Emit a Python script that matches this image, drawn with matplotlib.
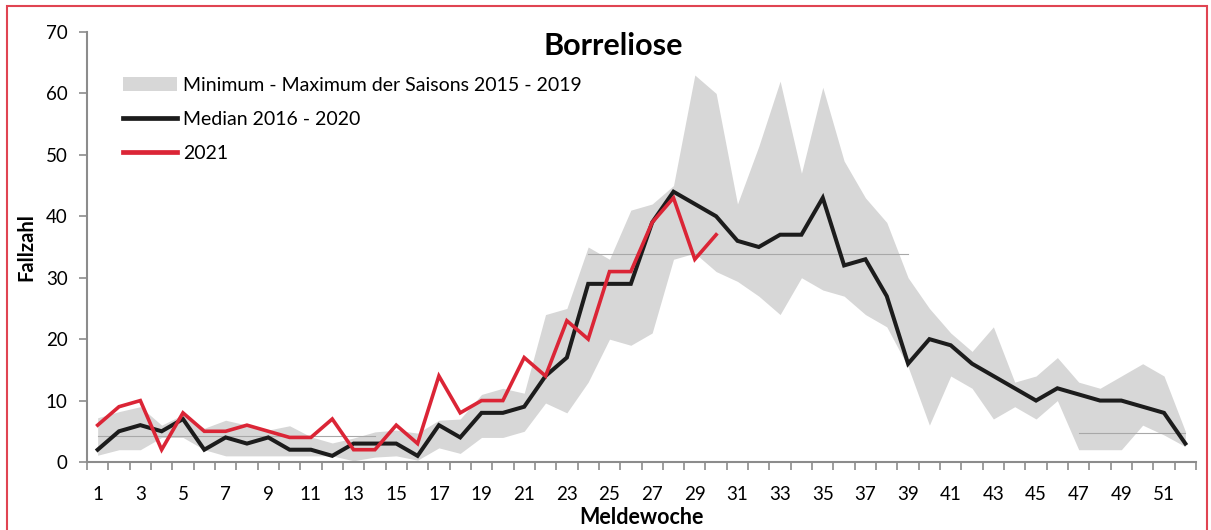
import numpy as np
import matplotlib
matplotlib.use("Agg")
import matplotlib.pyplot as plt
from matplotlib.patches import Rectangle, Patch
from matplotlib.lines import Line2D

weeks = list(range(1, 53))
band_max = [7.2, 8.2, 9, 6, 7.7, 5.5, 6.8, 6, 5.2, 5.9, 4.1, 3.1, 3.9, 4.9,
            5.2, 4.7, 6.8, 7, 11, 12, 11.2, 24, 25, 35, 33, 41, 42,
            45, 63, 60, 42, 51.4, 62, 47, 61, 49, 43, 39,
            30, 25, 21, 18, 22, 13, 14, 17, 13, 12, 14, 16, 14, 5]
band_min = [1.1, 2, 2, 4, 4, 2, 1, 1, 1, 1, 1, 1, 0.2, 0.8,
            1, 0.3, 2.3, 1.4, 4, 4, 5, 9.6, 8, 13, 20, 19, 21,
            33, 34, 31, 29.4, 27, 24, 30, 28, 27, 24, 22,
            15.5, 6, 14, 12, 7, 9, 7, 10, 2, 2, 2, 6, 4.4, 2.5]
median = [2, 5, 6, 5, 7, 2, 4, 3, 4, 2, 2, 1, 3, 3, 3, 1, 6, 4, 8, 8, 9, 14,
          17, 29, 29, 29, 39, 44, 42, 40, 36, 35, 37, 37, 43, 32, 33, 27,
          16, 20, 19, 16, 14, 12, 10, 12, 11, 10, 10, 9, 8, 3]
weeks_2021 = list(range(1, 31))
cases_2021 = [6, 9, 10, 2, 8, 5, 5, 6, 5, 4, 4, 7, 2, 2, 6, 3, 14, 8, 10, 10,
              17, 14, 23, 20, 31, 31, 39, 43, 33, 37]
# faint horizontal lines visible inside the band of the original chart
ref_levels = [4.3, 33.8, 4.7]
ref_from = [1, 24, 47]
ref_to = [14, 39, 52]
xtick_labels = [str(w) for w in range(1, 53, 2)]

FONT = "Lato"
plt.rcParams['font.family'] = [FONT, 'DejaVu Sans']

fig = plt.figure(figsize=(12.11, 5.30), dpi=100)
ax = fig.add_axes([87/1211, (530-462)/530, (1196-87)/1211, (462-32)/530])

band_col = '#d7d7d7'
ax.fill_between(weeks, band_min, band_max, color=band_col, lw=0, zorder=1)
for lv, a, b in zip(ref_levels, ref_from, ref_to):
    ax.plot([a, b], [lv, lv], color='#a8a8a8', lw=0.8, zorder=1.5)
ax.plot(weeks, median, color='#1c1c1c', lw=2.9, zorder=3, solid_joinstyle='miter')
ax.plot(weeks_2021, cases_2021, color='#db2536', lw=2.6, zorder=4, solid_joinstyle='miter')

ax.set_xlim(0.5, 52.5)
ax.set_ylim(0, 70)
ax.set_yticks(range(0, 71, 10))
ax.set_xticks(range(1, 53, 2))
ax.set_xticklabels(xtick_labels)
ax.set_xticks(np.arange(0.5, 53, 1), minor=True)
ax.tick_params(axis='x', which='major', length=0, pad=17, labelsize=13.5)
ax.tick_params(axis='x', which='minor', length=6, width=1.2, color='#8c8c8c', direction='out')
ax.tick_params(axis='y', which='major', length=6, width=1.2, color='#8c8c8c', labelsize=13.5, pad=8)
for s in ['top', 'right']:
    ax.spines[s].set_visible(False)
for s in ['left', 'bottom']:
    ax.spines[s].set_color('#8c8c8c')
    ax.spines[s].set_linewidth(1.5)

ax.set_xlabel('Meldewoche', fontsize=15.5, fontweight='bold', labelpad=3)
ax.set_ylabel('Fallzahl', fontsize=14.5, fontweight='bold', labelpad=7)
fig.text(613/1211, 1 - 46/530, 'Borreliose', fontsize=22, fontweight='bold',
         ha='center', va='center')

handles = [Patch(facecolor=band_col, edgecolor='none'),
           Line2D([], [], color='#1c1c1c', lw=3.4),
           Line2D([], [], color='#db2536', lw=3.4)]
labels = ['Minimum - Maximum der Saisons 2015 - 2019', 'Median 2016 - 2020', '2021']
leg = ax.legend(handles, labels, loc='upper left',
                bbox_to_anchor=((115-87)/(1196-87), 1 - (69-32)/430),
                frameon=False, fontsize=14, handlelength=2.8, handletextpad=0.3,
                labelspacing=0.88, borderaxespad=0)

fig.patches.append(Rectangle((7/1211, -0.1), (1207-7)/1211, 1.1 - 6/530, transform=fig.transFigure,
                             fill=False, edgecolor='#e04452', lw=1.5))

fig.savefig('out.png', dpi=100)
